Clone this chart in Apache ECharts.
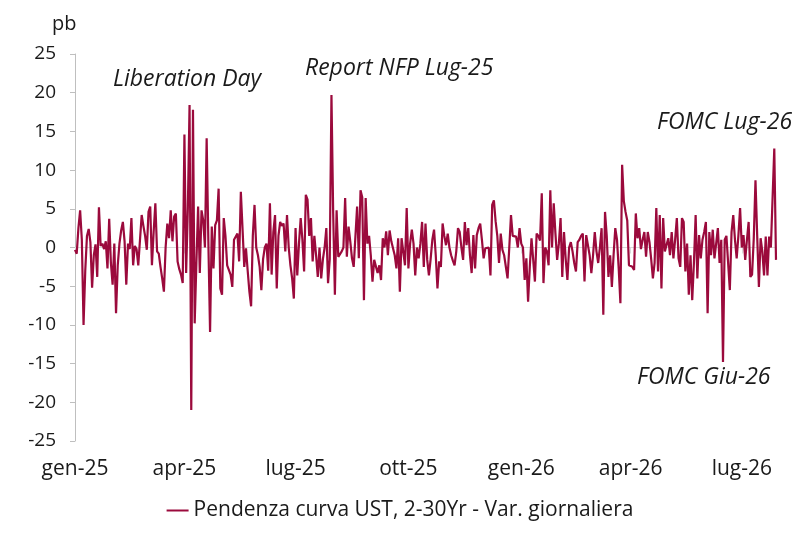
<!DOCTYPE html>
<html>
<head>
    <meta charset="UTF-8">
    <title>Pendenza curva UST</title>
    <script src="https://cdn.jsdelivr.net/npm/echarts@6/dist/echarts.min.js"></script>
    <style>
        body { margin: 0; background: #fff; }
        #chart { width: 800px; height: 535px; }
    </style>
</head>
<body>
<div id="chart"></div>
<script>
    // variazioni giornaliere (pb), un array per trimestre
    var q1_25 = [-0.3, -0.8, 2.5, 4.8, 1, -10, -3, 1.5, 2.4, 0.7,
        -5.2, -1, 0.4, -3.8, 5.2, 0.2, 0.5, -0.2, 0.8, -2.7,
        3.7, -2, -4.8, 0.5, -8.5, -2.3, 0.5, 2.2, 3.3, 0.8,
        -4.8, 0.5, -0.2, 3.8, -2.3, 0.2, -0.2, -2.3, -2.5, 4.2,
        2.8, 1.5, -0.3, 4.6, 5.3, -2.3, 2, 5.7, -0.5, -0.8,
        -2.5, -4, -5.7, 0, 3.1, 1.2, 4.8, 0.8, 4, 4.4,
        -1.8, -2.8, -3.5, -4.6];
    var q2_25 = [14.6, -3.3, 5, 18.4, -21, 17.8, -9.8, -2, 5.3, -3.3,
        4.8, 3.5, 0, 14.1, 0.7, -10.9, 2.7, -2.7, 2.9, 3.5,
        7.6, -5.3, -6.1, 3.8, 1.5, -2.3, -2.5, -3.5, -5.1, 1,
        1, 1.8, -1.8, 7.2, 7, -2.5, -0.1, -3, -5.7, -7.6,
        1.5, 5.5, 0, -1, -2.5, -5.5, -1.5, 0, 0.5, -3,
        5.7, -3.5, 2, 4.2, -5.3, 1.5, 3.3, 2.8, 3.1, -0.5,
        4.2, 0, -2.3, -4, -6.6];
    var q3_25 = [2.5, -3.6, 0.5, 3.8, 1, -3.1, 6.8, 6.2, 1.5, 3.8,
        -1.8, 1.5, -1, -3.8, 0, -4, -1.5, 0, 2.5, -4.6,
        -1.5, 19.7, 4.5, -6.1, 4.8, -1.2, -1, -0.5, 0, 6.4,
        -1.2, 2.7, 0.8, -1.4, -2.5, -2.4, 5.3, -1.4, 7.4, 6.5,
        -6.8, 6.4, 0.5, 1.5, -1, -4.4, -1.6, -1.6, -3.3, -2.3,
        -4.2, 1.2, 0, 2.1, -1, 2.2, 0.8, 1, -1, -2.7,
        1.2, -5.7, 1.2, 1.2, -2.3, 5.1];
    var q4_25 = [-2.7, 0.5, 2.3, 0.5, -3.6, 0, -1.4, 0.5, 3.3, -2.5,
        3.1, -1.6, -3.6, -1.5, 1, 2.3, -1, -5.3, -1.8, -2.5,
        3.1, 1.5, 0.3, 1.8, 0, -1, -1.7, -2.3, -0.5, 2.5,
        2, 0, -1.6, 3.3, 0.3, 2.5, -1, -3.3, 1.6, -2.7,
        1.6, 2.5, 3.1, 1, -1.4, -0.1, -0.1, 0, -3.6, 5.5,
        6.1, 3.4, 1.5, -2, 1.8, -0.3, -1, -1.2, -4, 0,
        4.2, 1.5, 1.4, 1.4, 0, 2.5];
    var q1_26 = [0.5, 0, -4.2, -1.4, -7, -2.5, 1.2, 1, -4.4, 1.8,
        1.5, 0.9, 7, -4.6, 0, -0.5, -2.3, 7.4, 0, 5.7,
        1.8, -1.6, 0.5, 3.8, -3.8, 2, -1.5, -4.2, 0, 0.7,
        -0.5, -2, -3.1, 0.7, 1, 1.5, 1.8, -4.4, 1.6, 1.4,
        -1, -3.3, -1, 2, -0.5, -2, 0, 2.5, -8.7, 4.6,
        1.5, -3.8, -1, -5.1, -1, 2.5, 1, -2.7, -7.2, 10.7,
        6, 4.6, 3.5, -2.3];
    var q2_26 = [-2.3, -2.5, -2.9, 4.4, 1.2, 2.5, -0.2, 1, 2, -1.2,
        2, 0.7, -1.5, -4, -2, 5.1, -3.1, 4.2, -5.3, 3.8,
        -0.5, -0.7, 1.2, -1, 2, -1.4, 1, 3.8, -1.4, -2.5,
        3.8, 3.3, -3.1, 0.5, -6.1, -1, -6.8, -2, 4.2, -4,
        1.6, -1.4, 1, 2, 3.3, -8.5, 2, -1, 2.3, -1.4,
        0.5, 2.5, -2, 1, -14.8, 1, 1.5, 1.4, -5.5, 2,
        4.2, 1, -1.4, 1.5, 5.1];
    var q3_26 = [0, 1.6, -1.6, 1, 3.3, -3.8, -3.5, 1.2, 8.7, 1.5,
        -5.1, 1.2, -0.5, -3.6, 1.4, -3.6, 1.4, 0, 0, 12.8, -1.6];

    var values = [].concat(q1_25, q2_25, q3_25, q4_25, q1_26, q2_26, q3_26);
    var monthNames = ['gen', 'feb', 'mar', 'apr', 'mag', 'giu', 'lug', 'ago', 'set', 'ott', 'nov', 'dic'];
    var seriesName = 'Pendenza curva UST, 2-30Yr - Var. giornaliera';

    // giorni lavorativi a partire dal 1 gen 2025
    var dates = [];
    var d = new Date(Date.UTC(2025, 0, 1));
    while (dates.length < values.length) {
        var wd = d.getUTCDay();
        if (wd !== 0 && wd !== 6) {
            dates.push(d.getUTCFullYear() + '-' + (d.getUTCMonth() + 1) + '-' + d.getUTCDate());
        }
        d.setUTCDate(d.getUTCDate() + 1);
    }

    function month(s) { return +s.split('-')[1] - 1; }
    function isQuarterStart(i) {
        var m = month(dates[i]);
        if (m % 3 !== 0) return false;
        return i === 0 || month(dates[i - 1]) !== m;
    }
    function quarterLabel(s) {
        var p = s.split('-');
        return monthNames[+p[1] - 1] + '-' + p[0].slice(2);
    }

    var font = '"Open Sans", "Noto Sans", sans-serif';
    var ink = '#1a1a1a';
    var myChart = echarts.init(document.getElementById('chart'));
    var option = {
        animation: false,
        textStyle: { fontFamily: font },
        grid: { left: 75, right: 24, top: 54, bottom: 94 },
        legend: {
            bottom: 9,
            left: 'center',
            icon: 'rect',
            itemWidth: 22,
            itemHeight: 2,
            itemGap: 6,
            textStyle: { fontSize: 21, color: ink, fontFamily: font },
            data: [seriesName]
        },
        xAxis: [{
            // linea dello zero con le tacche
            type: 'category',
            data: dates,
            boundaryGap: false,
            axisLine: { onZero: true, lineStyle: { color: '#d9d9d9', width: 1 } },
            axisTick: { show: true, length: 6, interval: function (i) { return isQuarterStart(i); }, lineStyle: { color: '#d9d9d9' } },
            axisLabel: { show: false },
            splitLine: { show: false }
        }, {
            // etichette in basso
            type: 'category',
            data: dates,
            position: 'bottom',
            boundaryGap: false,
            axisLine: { show: false, onZero: false },
            axisTick: { show: false },
            axisLabel: {
                interval: function (i) { return isQuarterStart(i); },
                formatter: quarterLabel,
                margin: 18,
                fontSize: 21,
                color: ink,
                hideOverlap: false
            },
            splitLine: { show: false }
        }],
        yAxis: {
            type: 'value',
            min: -25,
            max: 25,
            interval: 5,
            axisLine: { show: true, lineStyle: { color: '#bfbfbf' } },
            axisTick: { show: true, length: 5, lineStyle: { color: '#bfbfbf' } },
            axisLabel: { fontSize: 19, color: ink, margin: 19 },
            splitLine: { show: false }
        },
        series: [{
            name: seriesName,
            type: 'line',
            xAxisIndex: 0,
            data: values,
            symbol: 'none',
            lineStyle: { color: '#9b0a3c', width: 2.2 },
            itemStyle: { color: '#9b0a3c' }
        }],
        graphic: [
            { type: 'text', left: 52, top: 14, style: { text: 'pb', font: '20px ' + font, fill: ink } },
            { type: 'text', left: 113, top: 68, style: { text: 'Liberation Day', font: 'italic 23px ' + font, fill: ink } },
            { type: 'text', left: 305, top: 57, style: { text: 'Report NFP Lug-25', font: 'italic 23px ' + font, fill: ink } },
            { type: 'text', left: 657, top: 111, style: { text: 'FOMC Lug-26', font: 'italic 23px ' + font, fill: ink } },
            { type: 'text', left: 637, top: 366, style: { text: 'FOMC Giu-26', font: 'italic 23px ' + font, fill: ink } }
        ]
    };

    myChart.setOption(option);
</script>
</body>
</html>
